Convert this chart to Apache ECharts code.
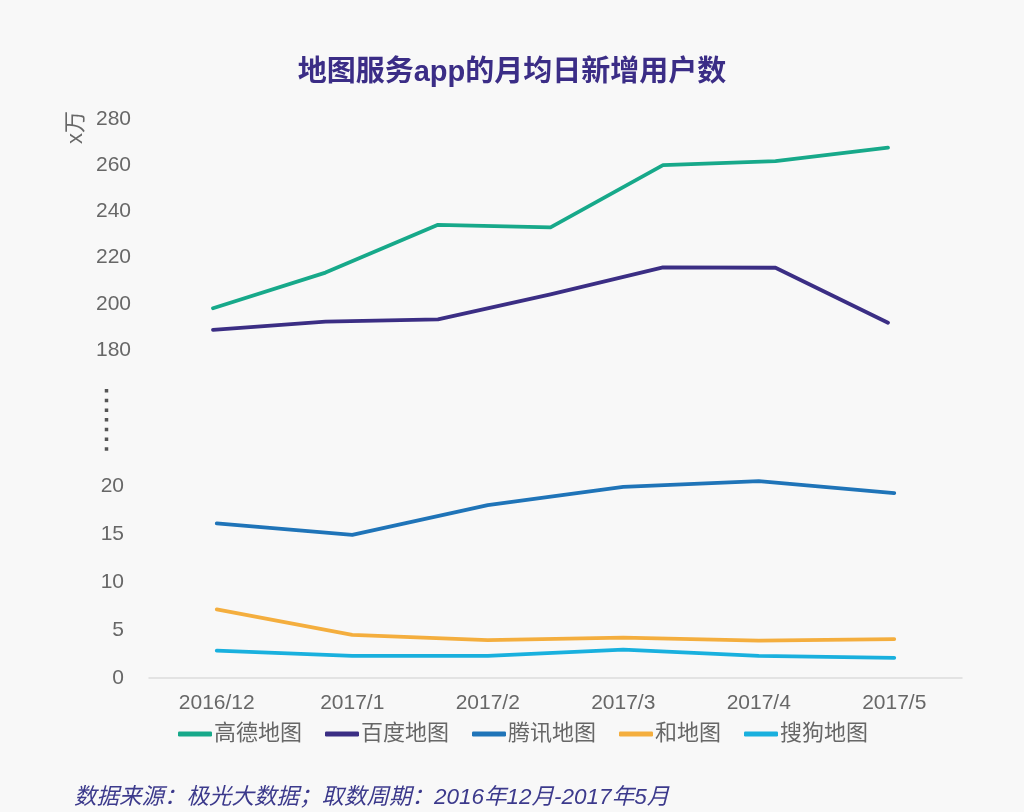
<!DOCTYPE html>
<html>
<head>
<meta charset="utf-8">
<script src="https://cdn.jsdelivr.net/npm/echarts@6/dist/echarts.min.js"></script>
<style>
html,body{margin:0;padding:0;background:#f8f8f8;}
#main{width:1024px;height:812px;}
</style>
</head>
<body>
<div id="main"></div>
<script>
// Data
const categories = ['2016/12', '2017/1', '2017/2', '2017/3', '2017/4', '2017/5'];
// upper panel (large values) is drawn with 7 evenly spaced points across the same span
const upperPoints = ['p1', 'p2', 'p3', 'p4', 'p5', 'p6', 'p7'];
const gaode = [198.1, 213.5, 234.2, 233.1, 260.0, 261.8, 267.6];
const baidu = [188.7, 192.3, 193.3, 204.1, 215.8, 215.6, 191.8];
const tengxun = [16.1, 14.9, 18.0, 19.9, 20.5, 19.25];
const hedetu = [7.15, 4.5, 3.95, 4.2, 3.9, 4.05];
const sougou = [2.85, 2.3, 2.3, 2.95, 2.3, 2.1];
const seriesNames = ['高德地图', '百度地图', '腾讯地图', '和地图', '搜狗地图'];
const upperTicks = {min: 180, max: 280, interval: 20};
const lowerTicks = {min: 0, max: 20, interval: 5};

const colors = ['#17a98a', '#3b2e84', '#1f74b8', '#f4ae3e', '#19b0de'];
const font = '"Liberation Sans", Arial, "Noto Sans CJK SC", sans-serif';
const labelColor = '#676767';

const chart = echarts.init(document.getElementById('main'));
const lineStyleFor = (i) => ({color: colors[i], width: 3.8, cap: 'round', join: 'round'});

chart.setOption({
  backgroundColor: '#f8f8f8',
  animation: false,
  color: colors,
  title: {
    text: '地图服务app的月均日新增用户数',
    left: 'center',
    top: 53,
    textStyle: {fontSize: 29, fontWeight: 'bold', color: '#3b2d86', fontFamily: font}
  },
  legend: {
    left: 173,
    top: 718,
    itemGap: 23,
    itemWidth: 34,
    itemHeight: 5,
    icon: 'roundRect',
    data: seriesNames,
    textStyle: {fontSize: 22, color: labelColor, fontFamily: font, padding: [0, 0, 0, -3]}
  },
  grid: [
    {left: 213, width: 675, top: 119, height: 231, containLabel: false},
    {left: 149, width: 813, top: 486, height: 192, containLabel: false}
  ],
  xAxis: [
    {
      gridIndex: 0, type: 'category', data: upperPoints, boundaryGap: false,
      show: false
    },
    {
      gridIndex: 1, type: 'category', data: categories, boundaryGap: true,
      axisLine: {show: true, lineStyle: {color: '#dcdcdc', width: 1.5}},
      axisTick: {show: false},
      axisLabel: {fontSize: 21, color: labelColor, margin: 15, fontFamily: font}
    }
  ],
  yAxis: [
    {
      gridIndex: 0, type: 'value', min: upperTicks.min, max: upperTicks.max, interval: upperTicks.interval,
      axisLine: {show: false}, axisTick: {show: false}, splitLine: {show: false},
      axisLabel: {fontSize: 21, color: labelColor, margin: 82, fontFamily: font}
    },
    {
      gridIndex: 1, type: 'value', min: lowerTicks.min, max: lowerTicks.max, interval: lowerTicks.interval,
      axisLine: {show: false}, axisTick: {show: false}, splitLine: {show: false},
      axisLabel: {fontSize: 21, color: labelColor, margin: 25, fontFamily: font}
    }
  ],
  series: [
    {name: seriesNames[0], type: 'line', xAxisIndex: 0, yAxisIndex: 0, data: gaode, showSymbol: false, symbol: 'none', clip: false, lineStyle: lineStyleFor(0), itemStyle: {color: colors[0]}},
    {name: seriesNames[1], type: 'line', xAxisIndex: 0, yAxisIndex: 0, data: baidu, showSymbol: false, symbol: 'none', clip: false, lineStyle: lineStyleFor(1), itemStyle: {color: colors[1]}},
    {name: seriesNames[2], type: 'line', xAxisIndex: 1, yAxisIndex: 1, data: tengxun, showSymbol: false, symbol: 'none', clip: false, lineStyle: lineStyleFor(2), itemStyle: {color: colors[2]}},
    {name: seriesNames[3], type: 'line', xAxisIndex: 1, yAxisIndex: 1, data: hedetu, showSymbol: false, symbol: 'none', clip: false, lineStyle: lineStyleFor(3), itemStyle: {color: colors[3]}},
    {name: seriesNames[4], type: 'line', xAxisIndex: 1, yAxisIndex: 1, data: sougou, showSymbol: false, symbol: 'none', clip: false, lineStyle: lineStyleFor(4), itemStyle: {color: colors[4]}}
  ],
  graphic: [
    {
      type: 'text', x: 65, y: 144, rotation: Math.PI / 2,
      style: {text: 'x万', fill: labelColor, font: '22px ' + font, textAlign: 'left', textVerticalAlign: 'top'}
    },
    {
      type: 'line',
      shape: {x1: 106.5, y1: 389, x2: 106.5, y2: 451},
      style: {stroke: '#555', lineWidth: 3.5, lineDash: [3.5, 6.2]}
    },
    {
      type: 'text', left: 74, top: 786,
      style: {text: '数据来源：极光大数据；取数周期：2016年12月-2017年5月', fill: '#3c3a8c',
        font: 'italic 22.5px ' + font}
    }
  ]
});
</script>
</body>
</html>
